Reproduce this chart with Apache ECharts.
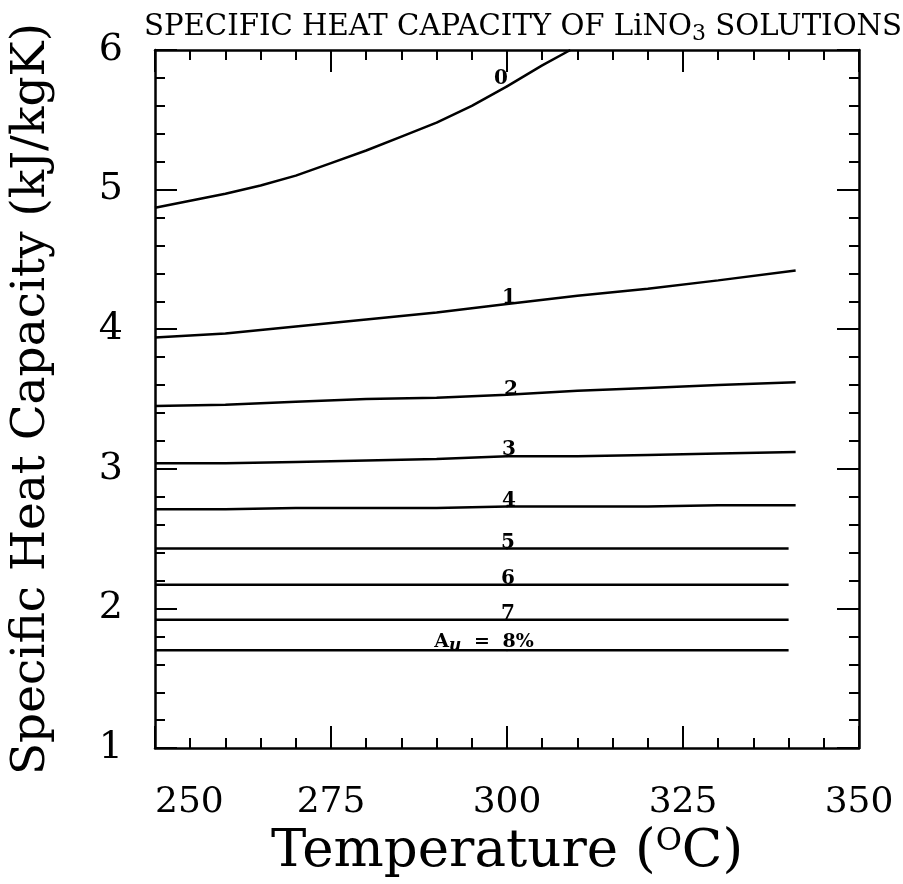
<!DOCTYPE html>
<html><head><meta charset="utf-8">
<script src="https://cdn.jsdelivr.net/npm/echarts@6/dist/echarts.min.js"></script>
<style>html,body{margin:0;padding:0;background:#fff}#c{width:903px;height:884px}</style>
</head><body><div id="c"></div>
<script>
// Temperature (°C) samples
const temps0 = [250, 255, 260, 265, 270, 275, 280, 285, 290, 295, 300, 305, 309];
const temps  = [250, 260, 270, 280, 290, 300, 310, 320, 330, 341];
const temps8 = [250, 260, 270, 280, 290, 300, 310, 320, 330, 340];
// Specific heat capacity (kJ/kgK) for Au = 0..8 %
const cp0 = [4.87, 4.92, 4.97, 5.03, 5.10, 5.19, 5.28, 5.38, 5.48, 5.60, 5.74, 5.89, 6.00];
const cp1 = [3.94, 3.97, 4.02, 4.07, 4.12, 4.18, 4.24, 4.29, 4.35, 4.42];
const cp2 = [3.45, 3.46, 3.48, 3.50, 3.51, 3.53, 3.56, 3.58, 3.60, 3.62];
const cp3 = [3.04, 3.04, 3.05, 3.06, 3.07, 3.09, 3.09, 3.10, 3.11, 3.12];
const cp4 = [2.71, 2.71, 2.72, 2.72, 2.72, 2.73, 2.73, 2.73, 2.74, 2.74];
const cp5 = [2.43, 2.43, 2.43, 2.43, 2.43, 2.43, 2.43, 2.43, 2.43, 2.43];
const cp6 = [2.17, 2.17, 2.17, 2.17, 2.17, 2.17, 2.17, 2.17, 2.17, 2.17];
const cp7 = [1.92, 1.92, 1.92, 1.92, 1.92, 1.92, 1.92, 1.92, 1.92, 1.92];
const cp8 = [1.70, 1.70, 1.70, 1.70, 1.70, 1.70, 1.70, 1.70, 1.70, 1.70];
const curveNames = ['0', '1', '2', '3', '4', '5', '6', '7', '{a|A}{u|u}{e| = }{a|8%}'];
const xRange = [250, 350];
const yRange = [1, 6];

const curves = [
  [temps0, cp0], [temps, cp1], [temps, cp2], [temps, cp3], [temps, cp4],
  [temps8, cp5], [temps8, cp6], [temps8, cp7], [temps8, cp8]
];

const serifFont = '"DejaVu Serif", serif';
const labelShift = [[-5, 3], [3, 5], [5, 6], [3, 5], [3, 5], [2, 5], [2, 5], [2, 5], [-22, 5]];

const series = curves.map(function (c, i) {
  const t = c[0], v = c[1];
  const labelIdx = t.indexOf(300);
  const data = t.map(function (tt, j) {
    if (j === labelIdx) {
      return {
        value: [tt, v[j]],
        symbol: 'circle',
        symbolSize: 2,
        label: {
          show: true,
          position: labelShift[i],
          align: 'center',
          verticalAlign: 'bottom',
          formatter: curveNames[i],
          fontFamily: serifFont,
          fontWeight: 'bold',
          fontSize: 20,
          color: '#000',
          rich: {
            a: { fontFamily: serifFont, fontWeight: 'bold', fontSize: 19, color: '#000' },
            e: { fontFamily: serifFont, fontWeight: 'bold', fontSize: 19, color: '#000', padding: [0, 6, 0, 6] },
            u: { fontFamily: serifFont, fontWeight: 'bold', fontStyle: 'italic', fontSize: 17, color: '#000', verticalAlign: 'bottom', padding: [7, 0, 0, 0] }
          }
        }
      };
    }
    return { value: [tt, v[j]], symbol: 'none' };
  });
  return {
    type: 'line',
    data: data,
    symbol: 'circle',
    symbolSize: 2,
    showSymbol: true,
    showAllSymbol: true,
    itemStyle: { color: '#000' },
    smooth: false,
    clip: true,
    lineStyle: { color: '#000', width: 2.5 },
    labelLayout: { hideOverlap: false },
    silent: true,
    z: 3
  };
});

const tickCommon = { show: true, inside: true, length: 22, lineStyle: { color: '#000', width: 2 } };
const minorCommon = { show: true, splitNumber: 5, length: 10, lineStyle: { color: '#000', width: 2 } };
const lineCommon = { show: true, onZero: false, lineStyle: { color: '#000', width: 2.5 } };

const chart = echarts.init(document.getElementById('c'), null, { renderer: 'canvas' });
chart.setOption({
  animation: false,
  backgroundColor: '#fff',
  title: {
    text: 'SPECIFIC HEAT CAPACITY OF LiNO{s|3} SOLUTIONS',
    left: 518, top: 4, textAlign: 'center',
    textStyle: {
      fontFamily: serifFont, fontWeight: 'normal', fontSize: 29.2, color: '#000',
      rich: { s: { fontFamily: serifFont, fontSize: 22, color: '#000', verticalAlign: 'bottom', padding: [14, 0, 0, 0] } }
    }
  },
  grid: { left: 153, right: 44, top: 50, bottom: 132, containLabel: false },
  xAxis: [{
    type: 'value', min: xRange[0], max: xRange[1], interval: 25, position: 'bottom',
    axisLine: lineCommon, axisTick: tickCommon, minorTick: minorCommon,
    splitLine: { show: false },
    axisLabel: { show: true, margin: 37, fontFamily: serifFont, fontSize: 36, color: '#000', alignMinLabel: 'left' },
    name: 'Temperature ({o|O}C)', nameLocation: 'middle', nameGap: 72,
    nameTextStyle: {
      fontFamily: serifFont, fontSize: 53, color: '#000',
      rich: { o: { fontFamily: serifFont, fontSize: 32, color: '#000', verticalAlign: 'top', padding: [0, 0, 20, 0] } }
    }
  }, {
    type: 'value', min: xRange[0], max: xRange[1], interval: 25, position: 'top',
    axisLine: lineCommon, axisTick: tickCommon, minorTick: minorCommon,
    splitLine: { show: false }, axisLabel: { show: false }
  }],
  yAxis: [{
    type: 'value', min: yRange[0], max: yRange[1], interval: 1, position: 'left',
    axisLine: lineCommon, axisTick: tickCommon, minorTick: minorCommon,
    splitLine: { show: false },
    axisLabel: { show: true, margin: 32, fontFamily: serifFont, fontSize: 38, color: '#000' },
    name: 'Specific Heat Capacity (kJ/kgK)', nameLocation: 'middle', nameGap: 100, nameRotate: 90,
    nameTextStyle: { fontFamily: serifFont, fontSize: 47, color: '#000' }
  }, {
    type: 'value', min: yRange[0], max: yRange[1], interval: 1, position: 'right',
    axisLine: lineCommon, axisTick: tickCommon, minorTick: minorCommon,
    splitLine: { show: false }, axisLabel: { show: false }
  }],
  series: series
});
</script>
</body></html>
